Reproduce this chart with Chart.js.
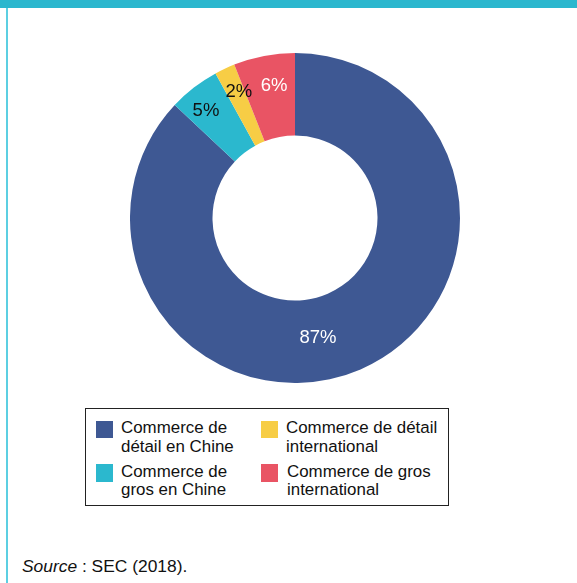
<!DOCTYPE html>
<html lang="fr">
<head>
<meta charset="utf-8">
<script src="https://cdn.jsdelivr.net/npm/chart.js@4/dist/chart.umd.min.js"></script>
<style>
  html, body { margin: 0; padding: 0; background: #fff; }
  body { width: 577px; height: 583px; position: relative; overflow: hidden;
         font-family: "Liberation Sans", Arial, Helvetica, sans-serif; color: #111; }
  .topbar { position: absolute; left: 0; top: 0; width: 577px; height: 8px; background: #2bb7ce; }
  .sidebar { position: absolute; left: 6px; top: 8px; width: 2px; height: 575px; background: #5ccfe2; }
  .chart-wrap { position: absolute; left: 130px; top: 53px; width: 330px; height: 330px; }
  #legend { position: absolute; left: 85px; top: 408px; width: 362px; height: 96px;
            border: 1.5px solid #222; }
  #legend ul { list-style: none; margin: 0; padding: 0; position: absolute; left: 10px; top: 10px;
               display: grid; grid-auto-flow: column; grid-template-rows: 43.5px 40px;
               grid-template-columns: 165px 190px; }
  #legend li { position: relative; padding-left: 25px; font-size: 16.9px; line-height: 18.5px; white-space: nowrap; }
  #legend li span.box { position: absolute; left: 0; top: 1.5px; width: 17px; height: 17.5px; }
  #legend li:nth-child(4) { padding-left: 26px; }
  .source { position: absolute; left: 22px; top: 556px; font-size: 17.4px; line-height: 20px; }
</style>
</head>
<body>
<div class="topbar"></div>
<div class="sidebar"></div>
<div class="chart-wrap"><canvas id="donut"></canvas></div>
<div id="legend"></div>
<div class="source"><i>Source</i> : SEC (2018).</div>

<script>
// Répartition du chiffre d'affaires par activité (en %)
const categories = [
  ["Commerce de", "détail en Chine"],
  ["Commerce de", "gros en Chine"],
  ["Commerce de détail", "international"],
  ["Commerce de gros", "international"]
];
const shares = [87, 5, 2, 6];
const sliceColors = ["#3e5893", "#2bb8ce", "#f7cd45", "#e95464"];
const valueLabelColors = ["#ffffff", "#111111", "#111111", "#ffffff"];

// Placement of each percentage label inside its ring segment:
// radial position (0 = inner edge, 1 = outer edge) and an angular nudge in degrees.
const labelRadial = [0.47, 0.70, 0.68, 0.63];
const labelNudgeDeg = [12.5, -1.6, 1.3, 1.9];

const valueLabels = {
  id: 'valueLabels',
  afterDatasetsDraw(chart) {
    const ctx = chart.ctx;
    const meta = chart.getDatasetMeta(0);
    ctx.save();
    ctx.font = '18.5px "Liberation Sans", Arial, sans-serif';
    ctx.textAlign = 'center';
    ctx.textBaseline = 'middle';
    meta.data.forEach((arc, i) => {
      const p = arc.getProps(['x', 'y', 'startAngle', 'endAngle', 'innerRadius', 'outerRadius'], true);
      const a = (p.startAngle + p.endAngle) / 2 + labelNudgeDeg[i] * Math.PI / 180;
      const r = p.innerRadius + labelRadial[i] * (p.outerRadius - p.innerRadius);
      ctx.fillStyle = valueLabelColors[i];
      ctx.fillText(chart.data.datasets[0].data[i] + '%', p.x + Math.cos(a) * r, p.y + Math.sin(a) * r + 1);
    });
    ctx.restore();
  }
};

const htmlLegend = {
  id: 'htmlLegend',
  afterUpdate(chart) {
    const host = document.getElementById('legend');
    host.innerHTML = '';
    const ul = document.createElement('ul');
    chart.data.labels.forEach((lines, i) => {
      const li = document.createElement('li');
      const box = document.createElement('span');
      box.className = 'box';
      box.style.background = chart.data.datasets[0].backgroundColor[i];
      li.appendChild(box);
      lines.forEach((t, k) => {
        if (k) li.appendChild(document.createElement('br'));
        li.appendChild(document.createTextNode(t));
      });
      ul.appendChild(li);
    });
    host.appendChild(ul);
  }
};

new Chart(document.getElementById('donut'), {
  type: 'doughnut',
  data: {
    labels: categories,
    datasets: [{
      data: shares,
      backgroundColor: sliceColors,
      borderWidth: 0,
      hoverOffset: 0
    }]
  },
  options: {
    responsive: true,
    maintainAspectRatio: false,
    animation: false,
    cutout: '50%',
    layout: { padding: 0 },
    plugins: {
      legend: { display: false },
      tooltip: { enabled: false }
    }
  },
  plugins: [valueLabels, htmlLegend]
});
</script>
</body>
</html>
